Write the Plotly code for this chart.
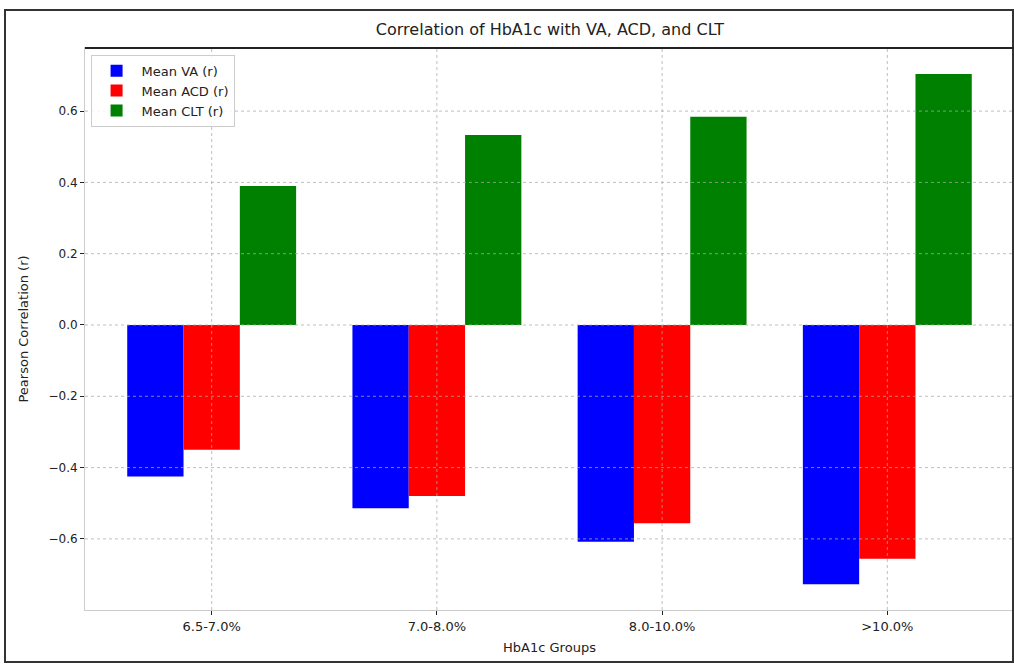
import plotly.graph_objects as go

groups = ["6.5-7.0%", "7.0-8.0%", "8.0-10.0%", ">10.0%"]
mean_va = [-0.425, -0.514, -0.608, -0.727]
mean_acd = [-0.35, -0.48, -0.556, -0.656]
mean_clt = [0.39, 0.533, 0.584, 0.704]
series_names = ["Mean VA (r)", "Mean ACD (r)", "Mean CLT (r)"]
series_colors = ["#0000ff", "#ff0000", "#008000"]
y_ticks = [-0.6, -0.4, -0.2, 0.0, 0.2, 0.4, 0.6]

W, H = 1014, 667
L, R, T, B = 85, 0, 48, 57

fig = go.Figure()
for name, vals, col in zip(series_names, [mean_va, mean_acd, mean_clt], series_colors):
    fig.add_trace(go.Bar(x=groups, y=vals, name=name, marker=dict(color=col, line=dict(width=0))))

shapes = []
grid_style = dict(color="rgba(170,170,170,0.75)", width=1, dash="dot")
for v in y_ticks:
    shapes.append(dict(type="line", xref="paper", yref="y", x0=0, x1=1, y0=v, y1=v,
                       line=grid_style, layer="above"))
for g in groups:
    shapes.append(dict(type="line", xref="x", yref="paper", x0=g, x1=g, y0=0, y1=1,
                       line=grid_style, layer="above"))

pw = W - L - R
ph = H - T - B
def px_x(p):
    return (p - L) / pw
def px_y(p):
    return (H - B - p) / ph

# outer frame of the figure
shapes.append(dict(type="rect", xref="paper", yref="paper",
                   x0=px_x(5), x1=px_x(1013), y0=px_y(662), y1=px_y(10),
                   line=dict(color="#333333", width=2), layer="above"))
# top spine darker
shapes.append(dict(type="line", xref="paper", yref="paper", x0=0, x1=1, y0=1, y1=1,
                   line=dict(color="#222222", width=2), layer="above"))

fig.update_layout(
    width=W, height=H,
    margin=dict(l=L, r=R, t=T, b=B),
    paper_bgcolor="white", plot_bgcolor="white",
    barmode="group", bargap=0.25, bargroupgap=0,
    font=dict(family="DejaVu Sans", size=12, color="#222222"),
    title=dict(text="Correlation of HbA1c with VA, ACD, and CLT", x=550 / W,
               xanchor="center", y=1 - 29 / H, yanchor="middle",
               font=dict(size=16, color="#222222")),
    legend=dict(x=0.006, y=0.988, xanchor="left", yanchor="top",
                bgcolor="rgba(255,255,255,0.85)", bordercolor="#cccccc", borderwidth=1,
                font=dict(size=13), tracegroupgap=4, itemwidth=40),
    shapes=shapes,
    showlegend=True,
)
fig.update_xaxes(range=[-0.5625, 3.5625], showgrid=False, showline=True, linecolor="#cccccc",
                 mirror=True, ticks="outside", ticklen=4, tickcolor="#222222",
                 tickfont=dict(size=13),
                 title=dict(text="HbA1c Groups", font=dict(size=13), standoff=10))
fig.update_yaxes(range=[-0.7995, 0.777], tickvals=y_ticks, tickformat=".1f", showgrid=False,
                 zeroline=False, showline=True, linecolor="#cccccc", mirror=True,
                 ticks="outside", ticklen=4, tickcolor="#222222", tickfont=dict(size=12),
                 title=dict(text="Pearson Correlation (r)", font=dict(size=13), standoff=16))

fig.write_html("out.html", config={"displayModeBar": False},
               post_script="document.body.style.margin='0';document.body.style.overflow='hidden';")
